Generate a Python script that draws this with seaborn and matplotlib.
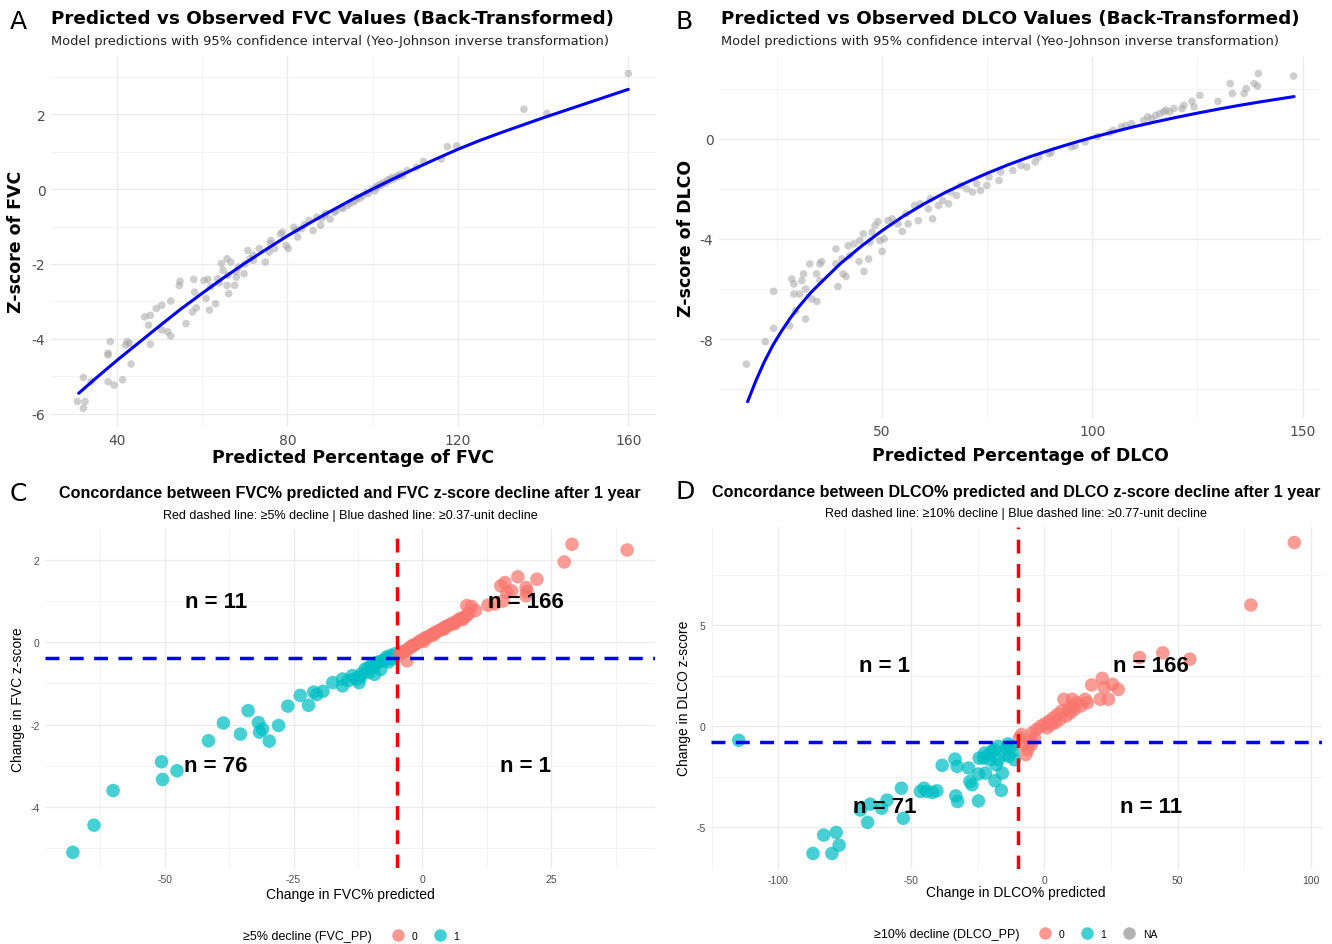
import numpy as np
import pandas as pd
import matplotlib
matplotlib.use("Agg")
import matplotlib.pyplot as plt
from matplotlib.lines import Line2D
from matplotlib.ticker import MultipleLocator
import seaborn as sns

# ---------------- data ----------------
# Panel A: predicted FVC% vs FVC z-score
fvc_pp = [30.7, 32.1, 32.5, 32.1, 33.9, 37.9, 37.9, 38.4, 37.9, 39.3, 41.3, 42.0, 42.4, 42.9, 43.3,
          46.5, 47.8, 47.4, 47.8, 49.2, 50.5, 50.5, 51.9, 52.6, 52.6, 54.6, 54.8, 56.2, 57.7, 58.0,
          58.2, 58.6, 60.4, 60.9, 61.3, 61.7, 63.1, 63.6, 64.5, 64.9, 65.8, 66.2, 66.7, 65.8, 67.6,
          68.0, 68.5, 69.8, 70.7, 71.2, 72.0, 73.4, 74.8, 75.7, 76.1, 77.0, 78.4, 78.8, 79.7, 80.2,
          81.5, 82.4, 83.3, 85.1, 86.0, 86.9, 87.8, 88.7, 90.0, 91.4, 92.7, 94.1, 95.4, 96.3, 97.7,
          98.6, 99.9, 100.9, 101.8, 102.7, 103.6, 104.5, 105.8, 106.7, 108.1, 110.3, 111.9, 116.1,
          117.5, 119.7, 135.5, 140.9, 160.0, 82.0, 84.0, 88.0, 89.0, 91.0, 93.0, 94.5, 96.0, 97.0,
          99.0, 100.5, 101.0, 102.0, 103.0, 104.0, 105.0, 106.0, 107.0, 76.0, 72.0, 70.0, 68.0,
          66.0, 62.0, 64.0]
fvc_z = [-5.67, -5.85, -5.67, -5.03, -5.14, -4.38, -4.43, -4.07, -5.14, -5.23, -5.09, -4.16, -4.07,
         -4.12, -4.67, -3.41, -3.37, -3.63, -4.14, -3.19, -3.10, -3.76, -3.81, -3.92, -2.99, -2.57,
         -2.46, -3.59, -3.28, -2.41, -2.75, -3.17, -2.44, -2.92, -2.41, -3.23, -3.06, -2.39, -1.99,
         -2.17, -1.86, -2.79, -1.95, -2.57, -2.57, -2.35, -2.08, -2.26, -1.64, -1.86, -1.77, -1.59,
         -1.95, -1.68, -1.37, -1.59, -1.20, -1.15, -1.51, -1.59, -1.02, -1.28, -1.06, -0.84, -1.11,
         -0.75, -0.97, -0.71, -0.80, -0.58, -0.49, -0.44, -0.35, -0.22, -0.18, -0.09, 0.00, 0.07,
         0.13, 0.18, 0.25, 0.31, 0.35, 0.40, 0.49, 0.58, 0.74, 0.80, 1.13, 1.15, 2.13, 2.02, 3.08,
         -1.10, -0.95, -0.78, -0.65, -0.62, -0.52, -0.38, -0.30, -0.25, -0.12, -0.05, 0.04, 0.10,
         0.15, 0.22, 0.27, 0.33, 0.36, -1.45, -1.90, -2.00, -2.20, -2.30, -2.60, -2.50]
fvc_fit_x = [31, 33, 35, 37.5, 40, 42.5, 45, 47.5, 50, 55, 60, 65, 70, 75, 80, 85, 90, 95, 100,
             105, 110, 115, 120, 125, 130, 135, 140, 145, 150, 155, 160]
fvc_fit_y = [-5.45, -5.25, -5.05, -4.81, -4.57, -4.34, -4.11, -3.88, -3.65, -3.20, -2.78, -2.37,
             -1.98, -1.61, -1.25, -0.92, -0.60, -0.29, 0.00, 0.28, 0.55, 0.81, 1.06, 1.29, 1.50,
             1.70, 1.90, 2.09, 2.28, 2.47, 2.66]

# Panel B: predicted DLCO% vs DLCO z-score
dlco_pp = [17.7, 22.2, 24.2, 24.2, 28.0, 28.5, 29.0, 29.0, 29.4, 30.4, 30.9, 31.3, 31.8, 31.8, 32.8,
           33.3, 34.4, 34.5, 35.2, 35.6, 35.2, 39.0, 39.0, 39.5, 40.4, 40.7, 41.4, 41.9, 42.3, 43.3,
           44.5, 44.7, 45.5, 45.7, 46.8, 47.1, 47.6, 48.3, 49.0, 49.5, 50.0, 50.5, 51.4, 52.4, 53.8,
           54.8, 55.7, 56.2, 57.7, 58.6, 59.1, 61.0, 61.5, 62.0, 63.4, 64.4, 65.8, 66.3, 67.7, 68.7,
           70.1, 71.5, 72.5, 73.4, 74.9, 75.4, 77.8, 78.2, 81.1, 83.0, 84.4, 86.4, 87.3, 89.7, 90.2,
           95.0, 95.9, 98.3, 101.2, 104.1, 105.0, 106.9, 107.9, 109.3, 112.2, 113.2, 114.1, 115.1,
           116.0, 117.0, 117.5, 118.4, 119.4, 121.3, 121.8, 123.7, 125.6, 124.2, 129.9, 132.8, 133.3,
           136.1, 136.6, 138.5, 139.3, 139.5, 147.9]
dlco_z = [-9.00, -8.10, -7.57, -6.09, -7.47, -5.60, -5.80, -6.20, -6.87, -6.20, -5.67, -5.40, -6.00,
          -7.20, -5.00, -6.40, -5.40, -6.50, -5.00, -4.90, -5.67, -4.40, -5.00, -5.90, -4.80, -5.40,
          -5.50, -4.27, -4.67, -4.20, -4.90, -4.07, -3.80, -5.30, -4.80, -4.13, -3.73, -3.47, -3.31,
          -4.07, -4.50, -4.00, -3.27, -3.20, -3.40, -3.70, -3.00, -3.40, -2.67, -3.27, -2.60, -2.80,
          -2.40, -3.20, -2.67, -2.47, -2.60, -2.13, -2.27, -1.87, -2.00, -2.13, -1.80, -2.07, -1.87,
          -1.53, -1.67, -1.33, -1.27, -1.07, -1.13, -0.93, -0.73, -0.60, -0.56, -0.33, -0.29, -0.13,
          0.09, 0.24, 0.33, 0.47, 0.53, 0.60, 0.73, 0.87, 0.80, 0.93, 1.00, 1.07, 1.13, 1.07, 1.20,
          1.20, 1.33, 1.49, 1.73, 1.27, 1.49, 2.20, 1.80, 1.80, 2.00, 2.20, 2.10, 2.60, 2.50]
dlco_fit_x = [18, 20, 22, 24, 26, 28, 30, 33, 36, 40, 45, 50, 55, 60, 65, 70, 75, 80, 85, 90, 95,
              100, 105, 110, 115, 120, 125, 130, 135, 140, 148]
dlco_fit_y = [-10.50, -9.65, -8.90, -8.25, -7.70, -7.20, -6.75, -6.15, -5.65, -5.00, -4.30, -3.67,
              -3.10, -2.60, -2.15, -1.75, -1.38, -1.04, -0.73, -0.45, -0.19, 0.05, 0.27, 0.48, 0.67,
              0.85, 1.02, 1.18, 1.33, 1.47, 1.68]

# Panel C: change in FVC% predicted vs change in FVC z-score
c_dpp = [-67.8, -63.7, -60.0, -50.6, -50.4, -47.6, -41.5, -38.6, -35.3, -33.8, -31.8, -31.6, -31.0,
         -29.7, -27.9, -26.1, -23.7, -22.1, -21.1, -20.5, -19.3, -17.4, -15.5, -15.5, -14.4, -13.6,
         -12.7, -12.3, -11.9, -11.1, -10.4, -9.9, -9.3, -8.6, -8.1, -7.4, -7.0, -6.6, -6.2, -5.8,
         -5.3, -9.5, -10.5, -12.0, -13.0, -8.8, -7.8, -6.8, -5.5,
         -4.5, -4.0, -3.5, -3.0, -2.5, -2.0, -1.5, -1.0, -0.5, 0.0, 0.5, 1.0, 1.5, 2.0, 2.5, 3.0,
         3.5, 4.0, 4.5, 5.0, 5.5, 6.0, 6.5, 7.0, 7.5, 8.0, 8.6, 9.0, -2.0, 0.3, 2.2, 4.2, 6.2, 7.8,
         9.5, 10.3, 12.7, 14.0, 15.2, 16.0, 16.4, 17.3, 15.6, 18.5, 20.1, 20.3, 22.2, 27.5, 29.0,
         39.7, 20.1, 8.6, -3.0]
c_dz = [-5.10, -4.44, -3.60, -2.90, -3.33, -3.12, -2.39, -1.96, -2.23, -1.66, -1.95, -2.18, -2.11,
        -2.40, -2.02, -1.55, -1.29, -1.53, -1.21, -1.27, -1.19, -0.98, -0.89, -1.06, -0.93, -0.81,
        -0.89, -0.98, -0.77, -0.65, -0.73, -0.56, -0.78, -0.48, -0.66, -0.44, -0.36, -0.48, -0.32,
        -0.40, -0.28, -0.60, -0.62, -0.85, -0.88, -0.50, -0.45, -0.40, -0.35,
        -0.30, -0.24, -0.22, -0.18, -0.14, -0.10, -0.06, -0.02, 0.03, 0.06, 0.10, 0.13, 0.16, 0.20,
        0.24, 0.27, 0.30, 0.34, 0.38, 0.40, 0.44, 0.47, 0.50, 0.55, 0.58, 0.60, 0.65, 0.70, -0.08,
        0.02, 0.18, 0.32, 0.45, 0.55, 0.87, 0.77, 0.90, 0.93, 1.37, 1.45, 1.21, 1.25, 1.00, 1.59,
        1.33, 1.23, 1.53, 1.95, 2.38, 2.24, 1.13, 0.89, -0.45]
c_flag = ["1"] * 49 + ["0"] * 53

# Panel D: change in DLCO% predicted vs change in DLCO z-score
d_dpp = [-114.8, -86.9, -79.8, -82.9, -78.2, -77.1, -66.4, -65.4, -69.1, -59.1, -61.1, -53.7, -53.0,
         -46.6, -45.2, -44.1, -42.0, -40.4, -38.4, -33.6, -32.8, -33.3, -32.6, -28.5, -28.0, -27.2,
         -24.8, -24.8, -24.5, -22.1, -22.4, -20.5, -19.7, -18.6, -18.1, -17.4, -16.2, -15.8, -15.0,
         -14.2, -13.4, -12.6, -11.8, -11.3, -13.7, -17.4, -18.9, -20.9, -22.9,
         -9.4, -7.8, -6.2, -7.0, -5.4, -8.6, -4.6, -3.0, -1.4, 0.2, 1.8, 3.3, 4.9, 6.5, 8.9, 10.5,
         12.1, 7.3, 10.5, 15.3, 16.1, 17.7, 21.7, 22.4, 24.0, 25.6, 27.7, 20.9, 35.7, 44.4, 54.6,
         77.5, 93.8, 2.5, 4.1, 5.7, 8.1, 9.7, 11.3, 13.7, 1.0, -3.8, -4.9]
d_dz = [-0.70, -6.30, -6.30, -5.39, -5.26, -5.89, -4.76, -3.86, -4.15, -3.66, -4.06, -3.07, -4.56,
        -3.23, -3.07, -3.23, -3.28, -3.20, -1.94, -1.63, -1.99, -3.45, -3.73, -2.07, -2.74, -2.90,
        -2.37, -3.70, -1.58, -2.32, -1.33, -1.66, -1.24, -2.70, -1.91, -1.66, -3.18, -2.32, -1.41,
        -1.08, -1.49, -1.00, -1.24, -1.66, -0.88, -1.00, -1.16, -1.41, -1.58,
        -0.58, -0.91, -1.16, -1.41, -0.75, -0.41, -0.33, -0.17, 0.00, 0.12, 0.25, 0.41, 0.58, 0.75,
        0.83, 1.00, 1.16, 1.33, 1.33, 1.33, 1.16, 2.04, 2.37, 1.91, 1.33, 2.07, 1.82, 1.33, 3.40,
        3.63, 3.32, 6.00, 9.09, 0.08, 0.17, 0.33, 0.50, 0.66, 0.83, 1.00, -0.08, -0.58, -0.91]
d_flag = ["1"] * 49 + ["0"] * 43

W, H = 1332, 945
RED, TEAL, NA_GREY = "#F8766D", "#00BFC4", "#999999"

sns.set_theme(style="white")
plt.rcParams["font.family"] = ["DejaVu Sans"]
plt.rcParams["axes.unicode_minus"] = False
plt.rcParams["text.color"] = "black"

fig = plt.figure(figsize=(W / 100, H / 100), dpi=100)


def px_axes(l, t, r, b):
    return fig.add_axes([l / W, 1 - b / H, (r - l) / W, (b - t) / H])


def ftext(x, y, s, **kw):
    fig.text(x / W, 1 - y / H, s, **kw)


def style_ax(ax, xmaj, ymaj, tsize, family):
    ax.xaxis.set_major_locator(MultipleLocator(xmaj))
    ax.xaxis.set_minor_locator(MultipleLocator(xmaj / 2))
    ax.yaxis.set_major_locator(MultipleLocator(ymaj))
    ax.yaxis.set_minor_locator(MultipleLocator(ymaj / 2))
    ax.grid(which="major", color="#EBEBEB", lw=1.0)
    ax.grid(which="minor", color="#F3F3F3", lw=0.7)
    ax.set_axisbelow(True)
    for sp in ax.spines.values():
        sp.set_visible(False)
    ax.tick_params(which="both", length=0, pad=4, labelsize=tsize, labelcolor="#4D4D4D")
    for lab in ax.get_xticklabels() + ax.get_yticklabels():
        lab.set_family(family)
    ax.set_xlabel("")
    ax.set_ylabel("")


# ---------------- A ----------------
axA = px_axes(51, 57, 656, 428)
sns.scatterplot(x=fvc_pp, y=fvc_z, ax=axA, color="#A6A6A6", alpha=0.55, s=30, edgecolor="none")
sns.lineplot(x=fvc_fit_x, y=fvc_fit_y, ax=axA, color="blue", lw=2.2)
axA.set_xlim(24.5, 166.5)
axA.set_ylim(-6.35, 3.55)
style_ax(axA, 40, 2, 10, "DejaVu Sans")
ftext(10, 22, "A", fontsize=18, va="center")
ftext(51, 19, "Predicted vs Observed FVC Values (Back-Transformed)", fontsize=13.2,
      fontweight="bold", va="center")
ftext(51, 42, "Model predictions with 95% confidence interval (Yeo-Johnson inverse transformation)",
      fontsize=9.4, va="center", color="#222222")
ftext(353, 458, "Predicted Percentage of FVC", fontsize=12.5, fontweight="bold", ha="center", va="center")
ftext(16, 242, "Z-score of FVC", fontsize=12.5, fontweight="bold", ha="center", va="center", rotation=90)

# ---------------- B ----------------
axB = px_axes(719, 58, 1321, 419)
sns.scatterplot(x=dlco_pp, y=dlco_z, ax=axB, color="#A6A6A6", alpha=0.55, s=30, edgecolor="none")
sns.lineplot(x=dlco_fit_x, y=dlco_fit_y, ax=axB, color="blue", lw=2.2)
axB.set_xlim(11.2, 154.4)
axB.set_ylim(-11.15, 3.26)
style_ax(axB, 50, 4, 10, "DejaVu Sans")
ftext(676, 22, "B", fontsize=18, va="center")
ftext(721, 19, "Predicted vs Observed DLCO Values (Back-Transformed)", fontsize=13.2,
      fontweight="bold", va="center")
ftext(721, 42, "Model predictions with 95% confidence interval (Yeo-Johnson inverse transformation)",
      fontsize=9.4, va="center", color="#222222")
ftext(1020, 456, "Predicted Percentage of DLCO", fontsize=12.5, fontweight="bold", ha="center", va="center")
ftext(686, 238, "Z-score of DLCO", fontsize=12.5, fontweight="bold", ha="center", va="center", rotation=90)

NARROW = "Liberation Sans"

# ---------------- C ----------------
axC = px_axes(45, 530, 655, 869)
dfC = pd.DataFrame({"dpp": c_dpp, "dz": c_dz, "flag": c_flag})
sns.scatterplot(data=dfC, x="dpp", y="dz", hue="flag", palette={"0": RED, "1": TEAL},
                ax=axC, s=95, alpha=0.72, edgecolor="none", legend=False)
axC.axvline(-5, color="red", ls=(0, (4, 3)), lw=2.5)
axC.axhline(-0.37, color="blue", ls=(0, (4, 3)), lw=2.5)
axC.set_xlim(-73.2, 45.1)
axC.set_ylim(-5.48, 2.75)
style_ax(axC, 25, 2, 7.5, NARROW)
for tx, ty, s in [(-40, 1.0, "n = 11"), (20, 1.0, "n = 166"), (-40, -3.0, "n = 76"), (20, -3.0, "n = 1")]:
    axC.text(tx, ty, s, fontsize=16, fontweight="bold", ha="center", va="center",
             family=NARROW, color="black")
ftext(10, 494, "C", fontsize=18, va="center")
ftext(350, 494, "Concordance between FVC% predicted and FVC z-score decline after 1 year",
      fontsize=11.6, fontweight="bold", ha="center", va="center", family=NARROW)
ftext(350, 516, "Red dashed line: \u22655% decline | Blue dashed line: \u22650.37-unit decline",
      fontsize=9, ha="center", va="center", family=NARROW)
ftext(350, 895, "Change in FVC% predicted", fontsize=10, ha="center", va="center", family=NARROW)
ftext(18, 700, "Change in FVC z-score", fontsize=10, ha="center", va="center", rotation=90, family=NARROW)

# ---------------- D ----------------
axD = px_axes(711, 528, 1322, 870)
dfD = pd.DataFrame({"dpp": d_dpp, "dz": d_dz, "flag": d_flag})
sns.scatterplot(data=dfD, x="dpp", y="dz", hue="flag", palette={"0": RED, "1": TEAL},
                ax=axD, s=95, alpha=0.72, edgecolor="none", legend=False)
axD.axvline(-10, color="red", ls=(0, (4, 3)), lw=2.5)
axD.axhline(-0.77, color="blue", ls=(0, (4, 3)), lw=2.5)
axD.set_xlim(-125.2, 104.2)
axD.set_ylim(-7.07, 9.86)
style_ax(axD, 50, 5, 7.5, NARROW)
for tx, ty, s in [(-60, 3.0, "n = 1"), (40, 3.0, "n = 166"), (-60, -4.0, "n = 71"), (40, -4.0, "n = 11")]:
    axD.text(tx, ty, s, fontsize=16, fontweight="bold", ha="center", va="center",
             family=NARROW, color="black")
ftext(676, 492, "D", fontsize=18, va="center")
ftext(1016, 492, "Concordance between DLCO% predicted and DLCO z-score decline after 1 year",
      fontsize=11.6, fontweight="bold", ha="center", va="center", family=NARROW)
ftext(1016, 514, "Red dashed line: \u226510% decline | Blue dashed line: \u22650.77-unit decline",
      fontsize=9, ha="center", va="center", family=NARROW)
ftext(1016, 893, "Change in DLCO% predicted", fontsize=10, ha="center", va="center", family=NARROW)
ftext(684, 698, "Change in DLCO z-score", fontsize=10, ha="center", va="center", rotation=90, family=NARROW)


# ---------------- legends ----------------
def dot(c):
    return Line2D([], [], marker="o", ls="", markersize=9, markerfacecolor=c,
                  markeredgecolor="none", alpha=0.75)


ftext(372, 937, "\u22655% decline (FVC_PP)", fontsize=9, ha="right", va="center", family=NARROW)
fig.legend([dot(RED), dot(TEAL)], ["0", "1"], loc="center left",
           bbox_to_anchor=(378 / W, 1 - 937 / H), ncol=2, frameon=False,
           prop={"family": NARROW, "size": 7.5}, handletextpad=0.3, columnspacing=1.2)
ftext(1019, 935, "\u226510% decline (DLCO_PP)", fontsize=9, ha="right", va="center", family=NARROW)
fig.legend([dot(RED), dot(TEAL), dot(NA_GREY)], ["0", "1", "NA"], loc="center left",
           bbox_to_anchor=(1025 / W, 1 - 935 / H), ncol=3, frameon=False,
           prop={"family": NARROW, "size": 7.5}, handletextpad=0.3, columnspacing=1.2)

fig.savefig("out.png", dpi=100, facecolor="white")
